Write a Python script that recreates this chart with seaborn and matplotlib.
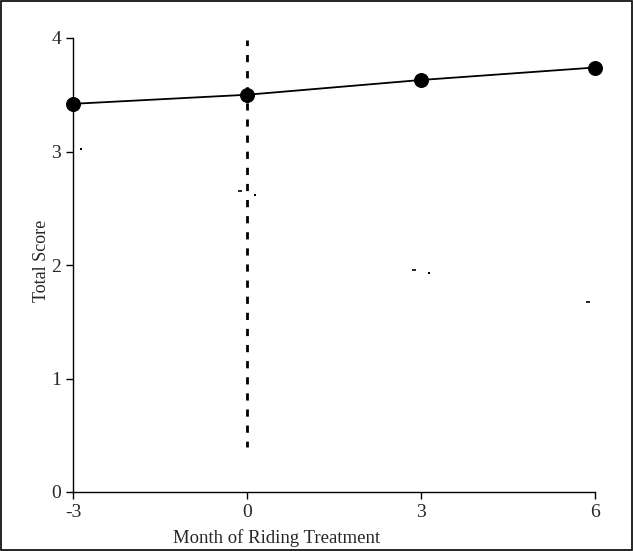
import matplotlib
matplotlib.use("Agg")
import matplotlib.pyplot as plt
import seaborn as sns
import pandas as pd
from matplotlib.patches import Rectangle

months = [-3, 0, 3, 6]
total_score = [3.42, 3.50, 3.63, 3.74]
second_series = [3.04, 2.64, 1.95, 1.66]
x_ticks = [-3, 0, 3, 6]
y_ticks = [0, 1, 2, 3, 4]

sns.set_style("ticks")
plt.rcParams['font.family'] = ['Liberation Serif', 'DejaVu Serif']

fig = plt.figure(figsize=(6.33, 5.51), dpi=100)
ax = fig.add_axes([73/633, 59/551, (595-73)/633, (492-38)/551])

df = pd.DataFrame({"month": months, "score": total_score})
sns.lineplot(data=df, x="month", y="score", ax=ax, color="black", linewidth=1.3,
             marker="o", markersize=10, markeredgecolor="black", clip_on=False, zorder=4)

# faint remnants of a second series (small marks)
df2 = pd.DataFrame({"month": months, "score": second_series})
ax.plot(df2["month"] - 0.12, df2["score"] + 0.01, linestyle="none", marker="_",
        markersize=3, color="black", markeredgewidth=1.2)
ax.plot(df2["month"] + 0.14, df2["score"] - 0.02, linestyle="none", marker="s",
        markersize=2, color="black", markeredgewidth=0)

ax.axvline(0, ymin=0.1, ymax=0.995, color="black", linestyle=(0.5, (2.6, 3.2)), linewidth=2)

ax.set_xlim(-3, 6)
ax.set_ylim(0, 4)
ax.set_xticks(x_ticks)
ax.set_yticks(y_ticks)
ax.set_xticklabels([str(t) for t in x_ticks])
ax.tick_params(labelsize=14, length=5, width=1, color="black")
ax.set_xlabel("Month of Riding Treatment", fontsize=13.5)
ax.set_ylabel("Total Score", fontsize=13)
ax.xaxis.set_label_coords(0.39, -0.082)
ax.yaxis.set_label_coords(-0.045, 0.51)
sns.despine(ax=ax)
for s in ["left", "bottom"]:
    ax.spines[s].set_linewidth(1)
    ax.spines[s].set_color("black")

fig.patches.append(Rectangle((0.001, 0.001), 0.998, 0.998, transform=fig.transFigure,
                             fill=False, edgecolor="black", linewidth=1.2))

fig.savefig("out.png", dpi=100)
